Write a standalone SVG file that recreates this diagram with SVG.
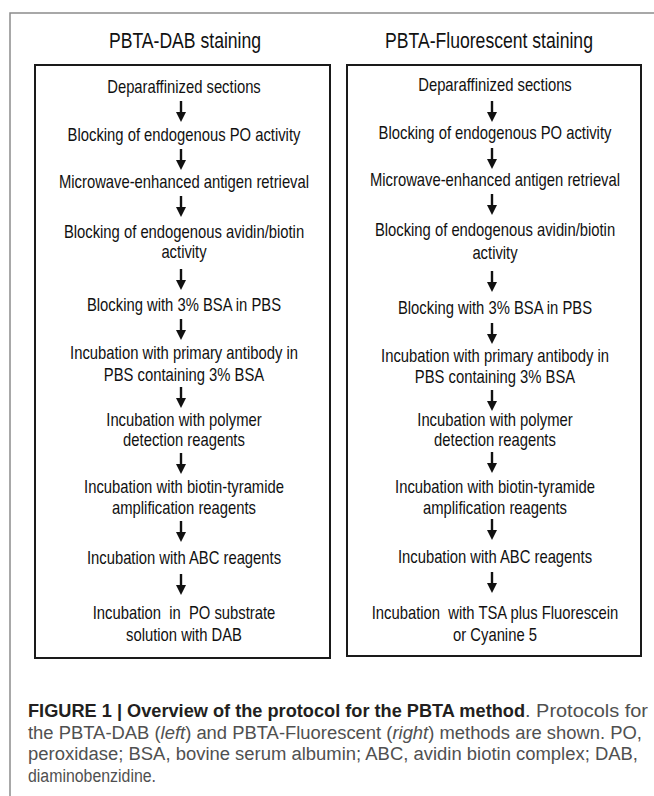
<svg xmlns="http://www.w3.org/2000/svg" xmlns:xlink="http://www.w3.org/1999/xlink" width="654" height="796" viewBox="0 0 654 796">
<style>
.frame{fill:none;stroke:#8c8c8c;stroke-width:1.5}
.box{fill:#fff;stroke:#1a1a1a;stroke-width:2}
.title{font-family:"Liberation Sans",Arial,sans-serif;font-size:22px;fill:#111;text-anchor:middle}
.step{font-family:"Liberation Sans",Arial,sans-serif;font-size:18.5px;fill:#111;text-anchor:middle}
.capb{font-family:"Liberation Sans",Arial,sans-serif;font-size:18px;font-weight:bold;fill:#231f20}
.capr{font-family:"Liberation Sans",Arial,sans-serif;font-size:18px;fill:#505050}
</style>
<defs>
<g id="arr"><rect x="-1.2" y="0" width="2.4" height="13" fill="#111"/><path d="M-5,11 L5,11 L0,21 Z" fill="#111"/></g>
</defs>
<rect width="654" height="796" fill="#fff"/>
<path class="frame" d="M10,800 L10,13 L660,13"/>

<g id="left-panel">
<text class="title" transform="translate(185,48) scale(0.8,1)">PBTA-DAB staining</text>
<rect class="box" x="35" y="65" width="295" height="593"/>
</g>
<g id="right-panel">
<text class="title" transform="translate(489,48) scale(0.8,1)">PBTA-Fluorescent staining</text>
<rect class="box" x="347" y="65" width="294" height="591"/>
</g>

<g id="L1"><text class="step" transform="translate(184,93) scale(0.8,1)">Deparaffinized sections</text></g>
<g id="L2"><text class="step" transform="translate(184,141) scale(0.8,1)">Blocking of endogenous PO activity</text></g>
<g id="L3"><text class="step" transform="translate(184,188) scale(0.8,1)">Microwave-enhanced antigen retrieval</text></g>
<g id="L4"><text class="step" transform="translate(184,238) scale(0.8,1)">Blocking of endogenous avidin/biotin</text><text class="step" transform="translate(184,258) scale(0.8,1)">activity</text></g>
<g id="L5"><text class="step" transform="translate(184,311) scale(0.8,1)">Blocking with 3% BSA in PBS</text></g>
<g id="L6"><text class="step" transform="translate(184,359) scale(0.8,1)">Incubation with primary antibody in</text><text class="step" transform="translate(184,381) scale(0.8,1)">PBS containing 3% BSA</text></g>
<g id="L7"><text class="step" transform="translate(184,426) scale(0.8,1)">Incubation with polymer</text><text class="step" transform="translate(184,446) scale(0.8,1)">detection reagents</text></g>
<g id="L8"><text class="step" transform="translate(184,493) scale(0.8,1)">Incubation with biotin-tyramide</text><text class="step" transform="translate(184,514) scale(0.8,1)">amplification reagents</text></g>
<g id="L9"><text class="step" transform="translate(184,564) scale(0.8,1)">Incubation with ABC reagents</text></g>
<g id="L10"><text class="step" transform="translate(184,619) scale(0.8,1)" xml:space="preserve">Incubation  in  PO substrate</text><text class="step" transform="translate(184,641) scale(0.8,1)">solution with DAB</text></g>

<g id="R1"><text class="step" transform="translate(495,91) scale(0.8,1)">Deparaffinized sections</text></g>
<g id="R2"><text class="step" transform="translate(495,139) scale(0.8,1)">Blocking of endogenous PO activity</text></g>
<g id="R3"><text class="step" transform="translate(495,186) scale(0.8,1)">Microwave-enhanced antigen retrieval</text></g>
<g id="R4"><text class="step" transform="translate(495,236) scale(0.8,1)">Blocking of endogenous avidin/biotin</text><text class="step" transform="translate(495,259) scale(0.8,1)">activity</text></g>
<g id="R5"><text class="step" transform="translate(495,314) scale(0.8,1)">Blocking with 3% BSA in PBS</text></g>
<g id="R6"><text class="step" transform="translate(495,362) scale(0.8,1)">Incubation with primary antibody in</text><text class="step" transform="translate(495,383) scale(0.8,1)">PBS containing 3% BSA</text></g>
<g id="R7"><text class="step" transform="translate(495,426) scale(0.8,1)">Incubation with polymer</text><text class="step" transform="translate(495,446) scale(0.8,1)">detection reagents</text></g>
<g id="R8"><text class="step" transform="translate(495,493) scale(0.8,1)">Incubation with biotin-tyramide</text><text class="step" transform="translate(495,514) scale(0.8,1)">amplification reagents</text></g>
<g id="R9"><text class="step" transform="translate(495,563) scale(0.8,1)">Incubation with ABC reagents</text></g>
<g id="R10"><text class="step" transform="translate(495,619) scale(0.8,1)" xml:space="preserve">Incubation  with TSA plus Fluorescein</text><text class="step" transform="translate(495,641) scale(0.8,1)">or Cyanine 5</text></g>

<g id="connectors">
<use xlink:href="#arr" x="181" y="101"/>
<use xlink:href="#arr" x="181" y="149"/>
<use xlink:href="#arr" x="181" y="196"/>
<use xlink:href="#arr" x="181" y="269"/>
<use xlink:href="#arr" x="181" y="319"/>
<use xlink:href="#arr" x="181" y="387"/>
<use xlink:href="#arr" x="181" y="453"/>
<use xlink:href="#arr" x="181" y="521"/>
<use xlink:href="#arr" x="181" y="574"/>
<use xlink:href="#arr" x="492" y="101"/>
<use xlink:href="#arr" x="492" y="148"/>
<use xlink:href="#arr" x="492" y="194"/>
<use xlink:href="#arr" x="492" y="271"/>
<use xlink:href="#arr" x="492" y="323"/>
<use xlink:href="#arr" x="492" y="390"/>
<use xlink:href="#arr" x="492" y="452"/>
<use xlink:href="#arr" x="492" y="519"/>
<use xlink:href="#arr" x="492" y="572"/>
</g>

<g id="caption">
<text class="capb" x="28" y="717" textLength="497" lengthAdjust="spacingAndGlyphs">FIGURE 1 | Overview of the protocol for the PBTA method</text>
<text class="capr" x="525" y="717" textLength="123" lengthAdjust="spacingAndGlyphs">. Protocols for</text>
<text class="capr" x="28" y="739" textLength="614" lengthAdjust="spacingAndGlyphs">the PBTA-DAB (<tspan font-style="italic">left</tspan>) and PBTA-Fluorescent (<tspan font-style="italic">right</tspan>) methods are shown. PO,</text>
<text class="capr" x="28" y="760" textLength="610" lengthAdjust="spacingAndGlyphs">peroxidase; BSA, bovine serum albumin; ABC, avidin biotin complex; DAB,</text>
<text class="capr" x="28" y="782" textLength="128" lengthAdjust="spacingAndGlyphs">diaminobenzidine.</text>
</g>
</svg>
